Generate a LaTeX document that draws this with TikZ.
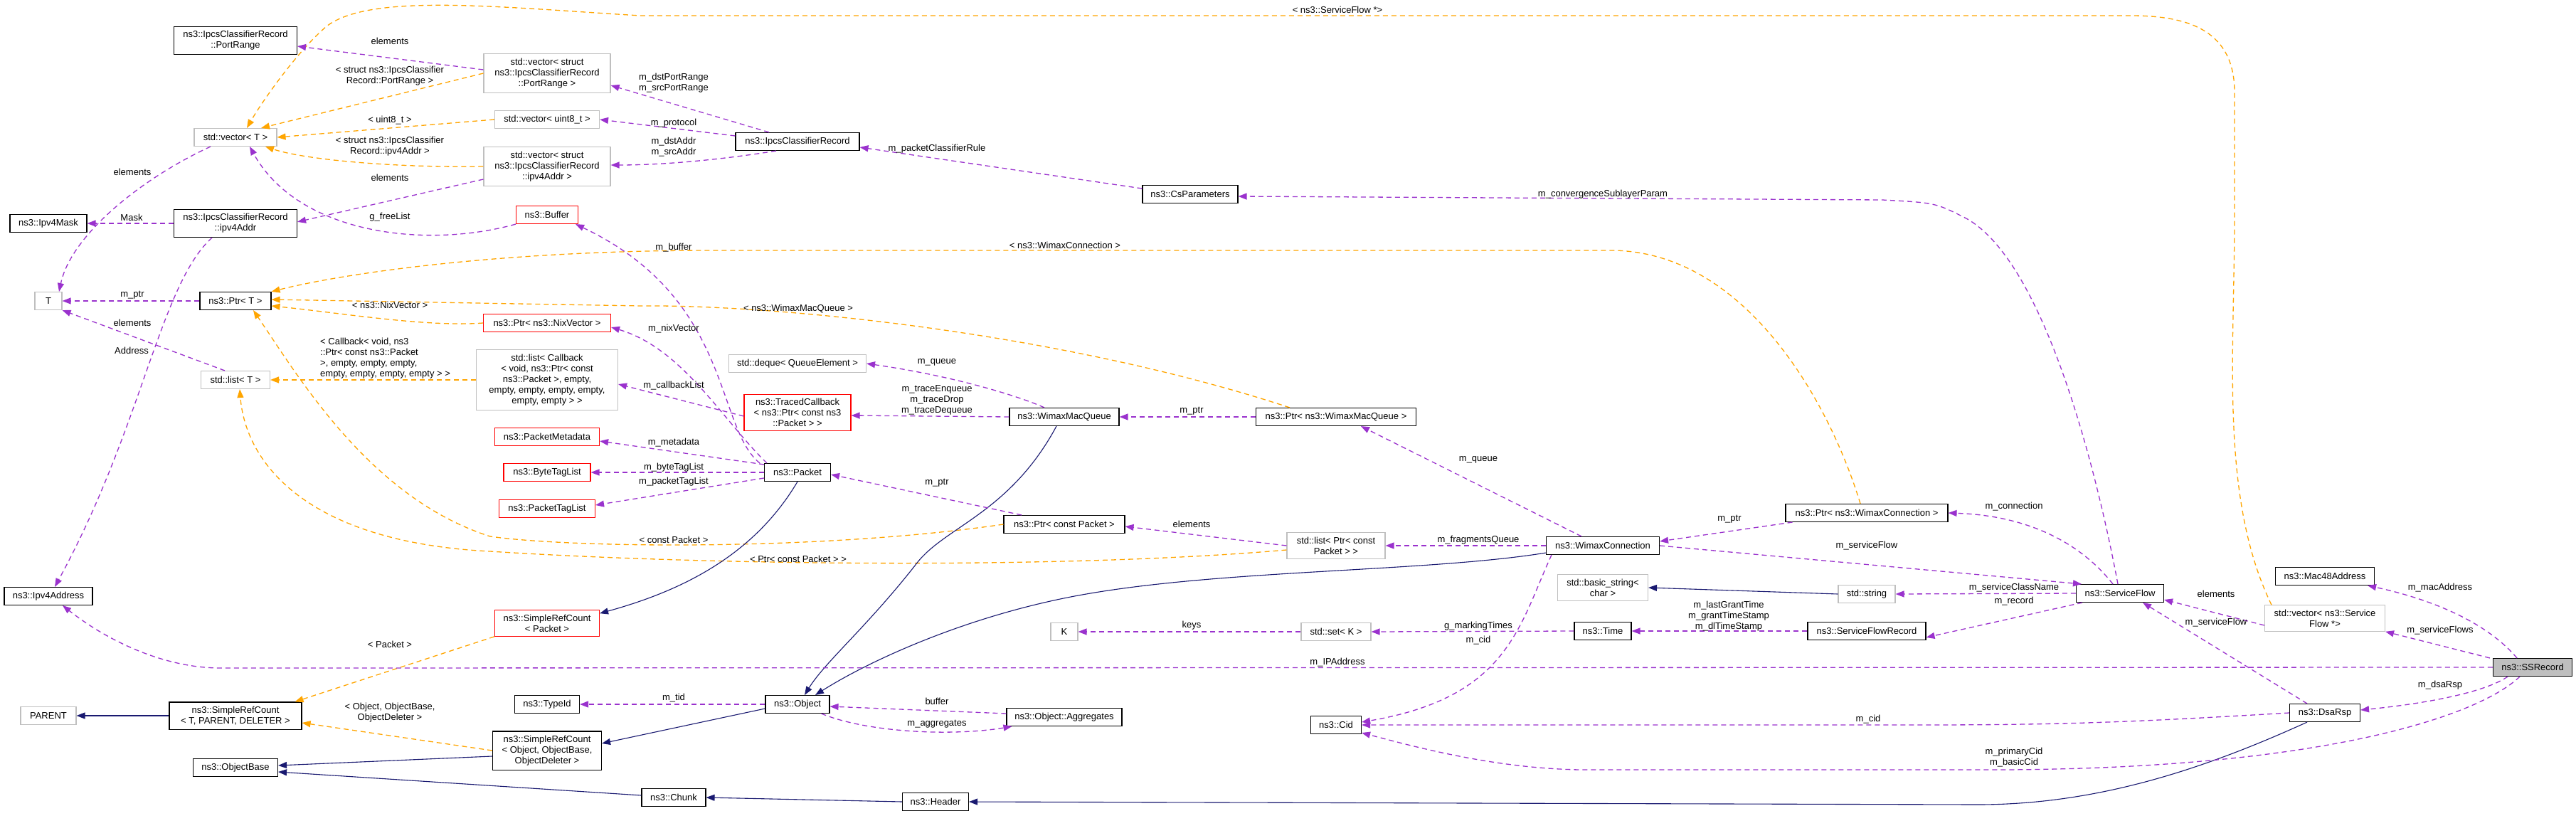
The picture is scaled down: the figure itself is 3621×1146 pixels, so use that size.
\documentclass[tikz,border=0pt]{standalone}
\usepackage{fontspec}
\setmainfont{Liberation Sans}
\usetikzlibrary{arrows.meta,calc}
\definecolor{usecol}{HTML}{9A32CD}
\definecolor{tplcol}{HTML}{FFA500}
\definecolor{inhcol}{HTML}{191970}
\definecolor{greybd}{HTML}{BFBFBF}
\begin{document}
\begin{tikzpicture}[x=1pt,y=-1pt,
  font=\fontsize{13}{15}\selectfont,
  box/.style={draw=black,line width=1.1pt,inner xsep=4pt,inner ysep=6pt,minimum height=25pt,align=center,fill=white},
  gbox/.style={box,draw=greybd},
  rbox/.style={box,draw=red},
  lbl/.style={align=center,inner sep=0pt},
  tip/.style={-{Triangle[length=12pt,width=9pt]}},
  use/.style={tip,draw=usecol,line width=1.3pt,dash pattern=on 7pt off 5pt},
  tpl/.style={tip,draw=tplcol,line width=1.3pt,dash pattern=on 7pt off 5pt},
  inh/.style={tip,draw=inhcol,line width=1.1pt}]
\useasboundingbox (0,0) rectangle (3621,1146);
% nodes
\node[box,minimum width=173] (PortRange) at (331,57) {ns3::IpcsClassifierRecord\\::PortRange};
\node[gbox,minimum width=178] (vecPR) at (769,103) {std::vector{<} struct\\ ns3::IpcsClassifierRecord\\::PortRange {>}};
\node[gbox,minimum width=116] (vecT) at (331,193) {std::vector{<} T {>}};
\node[gbox,minimum width=147] (vecU8) at (769,168) {std::vector{<} uint8\_t {>}};
\node[gbox,minimum width=178] (vecIP) at (769,234) {std::vector{<} struct\\ ns3::IpcsClassifierRecord\\::ipv4Addr {>}};
\node[box,minimum width=108] (Mask) at (68,314) {ns3::Ipv4Mask};
\node[box,minimum width=173] (ipv4Addr) at (331,314) {ns3::IpcsClassifierRecord\\::ipv4Addr};
\node[rbox,minimum width=87] (Buffer) at (769,302) {ns3::Buffer};
\node[gbox,minimum width=38] (T) at (68,423) {T};
\node[box,minimum width=100] (PtrT) at (331,423) {ns3::Ptr{<} T {>}};
\node[rbox,minimum width=179] (PtrNix) at (769,454) {ns3::Ptr{<} ns3::NixVector {>}};
\node[gbox,minimum width=97] (listT) at (331,534) {std::list{<} T {>}};
\node[gbox,minimum width=199] (listCB) at (769,534) {std::list{<} Callback\\{<} void, ns3::Ptr{<} const\\ ns3::Packet {>}, empty,\\ empty, empty, empty, empty,\\ empty, empty {>} {>}};
\node[rbox,minimum width=147] (Meta) at (769,614) {ns3::PacketMetadata};
\node[rbox,minimum width=122] (BTL) at (769,664) {ns3::ByteTagList};
\node[rbox,minimum width=135] (PTL) at (769,715) {ns3::PacketTagList};
\node[box,minimum width=124] (Ipv4Address) at (68,838) {ns3::Ipv4Address};
\node[rbox,minimum width=147] (SRCP) at (769,876) {ns3::SimpleRefCount\\{<} Packet {>}};
\node[gbox,minimum width=78] (PARENT) at (68,1006) {PARENT};
\node[box,minimum width=186] (SRCT) at (331,1006) {ns3::SimpleRefCount\\{<} T, PARENT, DELETER {>}};
\node[box,minimum width=91] (TypeId) at (769,990) {ns3::TypeId};
\node[box,minimum width=153] (SRCO) at (769,1055) {ns3::SimpleRefCount\\{<} Object, ObjectBase,\\ObjectDeleter {>}};
\node[box,minimum width=119] (ObjectBase) at (331,1079) {ns3::ObjectBase};
\node[box,minimum width=174] (IpcsCR) at (1121,199) {ns3::IpcsClassifierRecord};
\node[box,minimum width=134] (CsP) at (1673,273) {ns3::CsParameters};
\node[gbox,minimum width=193] (deque) at (1121,511) {std::deque{<} QueueElement {>}};
\node[rbox,minimum width=150] (TCB) at (1121,580) {ns3::TracedCallback\\{<} ns3::Ptr{<} const ns3\\::Packet {>} {>}};
\node[box,minimum width=154] (WMQ) at (1496,586) {ns3::WimaxMacQueue};
\node[box,minimum width=225] (PtrWMQ) at (1878,586) {ns3::Ptr{<} ns3::WimaxMacQueue {>}};
\node[box,minimum width=93] (Packet) at (1121,664) {ns3::Packet};
\node[box,minimum width=170] (PtrCP) at (1496,737) {ns3::Ptr{<} const Packet {>}};
\node[gbox,minimum width=138] (listPCP) at (1878,767) {std::list{<} Ptr{<} const\\ Packet {>} {>}};
\node[gbox,minimum width=38] (K) at (1496,888) {K};
\node[gbox,minimum width=98] (setK) at (1878,888) {std::set{<} K {>}};
\node[box,minimum width=90] (Object) at (1121,990) {ns3::Object};
\node[box,minimum width=162] (Aggr) at (1496,1008) {ns3::Object::Aggregates};
\node[box,minimum width=71] (Cid) at (1878,1019) {ns3::Cid};
\node[box,minimum width=90] (Chunk) at (947,1121) {ns3::Chunk};
\node[box,minimum width=93] (Header) at (1315,1127) {ns3::Header};
\node[box,minimum width=228] (PtrWC) at (2624,721) {ns3::Ptr{<} ns3::WimaxConnection {>}};
\node[box,minimum width=159] (WC) at (2253,767) {ns3::WimaxConnection};
\node[gbox,minimum width=127] (bstr) at (2253,826) {std::basic\_string{<}\\ char {>}};
\node[gbox,minimum width=80] (str) at (2624,835) {std::string};
\node[box,minimum width=80] (Time) at (2253,887) {ns3::Time};
\node[box,minimum width=166] (SFR) at (2624,887) {ns3::ServiceFlowRecord};
\node[box,minimum width=123] (SF) at (2980,834) {ns3::ServiceFlow};
\node[box,minimum width=139] (Mac) at (3268,810) {ns3::Mac48Address};
\node[gbox,minimum width=169] (vecSF) at (3268,869) {std::vector{<} ns3::Service\\Flow *{>}};
\node[box,fill=greybd,minimum width=111] (SSR) at (3560,938) {ns3::SSRecord};
\node[box,minimum width=99] (DsaRsp) at (3268,1002) {ns3::DsaRsp};

% template edges
\draw[tpl] (vecPR.west) -- ([xshift=36]vecT.north);
\draw[tpl] (vecU8.west) -- (vecT.east);
\draw[tpl] (vecIP.west) .. controls (560,236) and (430,225) .. ([xshift=42]vecT.south);
\draw[tpl] ([xshift=10]vecSF.north west) .. controls (3120,700) and (3141,500) .. (3141,300) -- (3141,130) .. controls (3141,45) and (3080,22) .. (2995,22) -- (900,22) .. controls (700,10) and (520,-10) .. (459,37) .. controls (420,70) and (370,140) .. ([xshift=16]vecT.north);
\draw[tpl] ([xshift=-9]PtrWC.north) .. controls (2570,560) and (2450,352) .. (2264,352) -- (1000,352) .. controls (700,352) and (480,385) .. (PtrT.north east);
\draw[tpl] ([xshift=-65]PtrWMQ.north) .. controls (1500,470) and (1100,428) .. (900,430) -- ([yshift=2]PtrT.east);
\draw[tpl] (PtrNix.west) .. controls (600,460) and (480,440) .. ([yshift=-7]PtrT.east);
\draw[tpl] (PtrCP.west) .. controls (1150,775) and (800,770) .. (689,754) .. controls (520,700) and (420,530) .. ([xshift=25]PtrT.south);
\draw[tpl] (listCB.west) -- (listT.east);
\draw[tpl] ([yshift=-6]listPCP.west) .. controls (1500,800) and (1000,795) .. (689,775) .. controls (430,762) and (345,650) .. ([xshift=6]listT.south);
\draw[tpl] (SRCP.south west) -- ([xshift=-10]SRCT.north east);
\draw[tpl] (SRCO.west) -- ([yshift=-10]SRCT.east);

% inheritance
\draw[inh] (Packet.south) .. controls (1060,780) and (960,830) .. ([yshift=-5]SRCP.north east);
\draw[inh] ([xshift=-11]WMQ.south) .. controls (1420,720) and (1330,740) .. (1290,790) .. controls (1220,880) and (1160,930) .. ([xshift=10]Object.north);
\draw[inh] ([yshift=3]WC.south west) .. controls (2000,805) and (1700,800) .. (1500,840) .. controls (1350,870) and (1220,930) .. ([xshift=25]Object.north);
\draw[inh] ([yshift=-6]Object.west) -- ([yshift=10]SRCO.east);
\draw[inh] ([yshift=-8]SRCO.west) -- ([yshift=3]ObjectBase.east);
\draw[inh] ([yshift=3]Chunk.west) -- ([yshift=-6]ObjectBase.east);
\draw[inh] (Header.west) -- (Chunk.east);
\draw[inh] ([xshift=-25]DsaRsp.south) .. controls (3100,1080) and (2950,1131) .. (2780,1131) -- (Header.east);
\draw[inh] (str.west) -- (bstr.east);
\draw[inh] (SRCT.west) -- (PARENT.east);

% usage
\draw[use] ([yshift=5]vecPR.west) -- ([yshift=-8]PortRange.east);
\draw[use] ([xshift=-40]IpcsCR.north) -- ([yshift=-17]vecPR.east);
\draw[use] ([yshift=8]IpcsCR.west) -- (vecU8.east);
\draw[use] ([xshift=-30]IpcsCR.south) .. controls (1010,225) and (930,232) .. ([yshift=2]vecIP.east);
\draw[use] ([yshift=-18]vecIP.west) -- ([yshift=-18]ipv4Addr.north east);
\draw[use] ([xshift=-35]vecT.south) .. controls (200,250) and (100,330) .. ([xshift=15]T.north);
\draw[use] (ipv4Addr.west) -- (Mask.east);
\draw[use] ([xshift=-33]ipv4Addr.south) .. controls (225,400) and (200,600) .. ([xshift=9]Ipv4Address.north);
\draw[use] (Buffer.south west) .. controls (600,350) and (420,330) .. ([xshift=20]vecT.south);
\draw[use] (PtrT.west) -- (T.east);
\draw[use] ([xshift=-15]listT.north) -- (T.south east);
\draw[use] ([yshift=8]CsP.west) -- ([yshift=-8]IpcsCR.east);
\draw[use] ([xshift=-3]SF.north) .. controls (2945,650) and (2870,360) .. (2760,305) .. controls (2720,285) .. (2646,281) -- ([yshift=-3]CsP.east);
\draw[use] ([xshift=-6]Packet.north west) .. controls (1005,600) and (1030,420) .. ([xshift=-4]Buffer.south east);
\draw[use] ([xshift=4]Packet.north west) .. controls (1015,590) and (960,490) .. ([yshift=-6]PtrNix.east);
\draw[use] ([yshift=-5]TCB.west) -- ([yshift=-6]listCB.east);
\draw[use] ([yshift=-2]Packet.north west) -- ([yshift=-6]Meta.east);
\draw[use] (Packet.west) -- (BTL.east);
\draw[use] ([yshift=-8]Packet.west) -- ([yshift=5]PTL.east);
\draw[use] ([xshift=-28]WMQ.north) .. controls (1440,560) and (1350,530) .. (deque.east);
\draw[use] (WMQ.west) -- ([yshift=-4]TCB.east);
\draw[use] (PtrWMQ.west) -- (WMQ.east);
\draw[use] ([xshift=-60]PtrCP.north) -- ([yshift=-3]Packet.east);
\draw[use] ([xshift=-30]WC.north) -- ([xshift=35]PtrWMQ.south);
\draw[use] (listPCP.west) -- ([yshift=-3]PtrCP.east);
\draw[use] (WC.west) -- (listPCP.east);
\draw[use] ([xshift=10]PtrWC.south west) -- ([yshift=-7]WC.north east);
\draw[use] ([xshift=-10]SF.north) .. controls (2930,770) and (2860,725) .. (PtrWC.east);
\draw[use] (WC.east) -- ([xshift=8]SF.north west);
\draw[use] (SF.west) -- (str.east);
\draw[use] ([xshift=9]SF.south west) -- ([yshift=-9]SFR.east);
\draw[use] (SFR.west) -- (Time.east);
\draw[use] (Time.west) -- (setK.east);
\draw[use] (setK.west) -- (K.east);
\draw[use] ([xshift=8]WC.south west) .. controls (2135,880) and (2120,980) .. ([yshift=4]Cid.east);
\draw[use] (SSR.west) -- (310,939) .. controls (230,939) and (150,900) .. ([xshift=20]Ipv4Address.south);
\draw[use] (Object.west) -- (TypeId.east);
\draw[use] ([yshift=5]Aggr.west) -- ([yshift=-3]Object.east);
\draw[use] ([xshift=-12]Object.south east) .. controls (1220,1030) and (1340,1035) .. ([xshift=8]Aggr.south west);
\draw[use] ([yshift=-10]vecSF.west) -- ([yshift=-9]SF.east);
\draw[use] ([xshift=-22]SSR.north) .. controls (3500,880) and (3430,845) .. ([xshift=-10]Mac.south east);
\draw[use] ([xshift=-4]SSR.north west) -- (vecSF.south east);
\draw[use] ([xshift=-35]SSR.south) .. controls (3490,975) and (3400,990) .. ([yshift=4]DsaRsp.east);
\draw[use] ([xshift=-18]SSR.south) .. controls (3480,1010) and (3250,1082) .. (2800,1082) -- (2221,1082) .. controls (2100,1080) and (1990,1050) .. ([yshift=2]Cid.south east);
\draw[use] (DsaRsp.west) .. controls (3000,1015) and (2900,1019) .. (2700,1019) -- (Cid.east);
\draw[use] ([xshift=-25]DsaRsp.north) -- ([xshift=32]SF.south);

% labels
\node[lbl] at (548,58) {elements};
\node[lbl] at (548,107) {{<} struct ns3::IpcsClassifier\\Record::PortRange {>}};
\node[lbl] at (548,169) {{<} uint8\_t {>}};
\node[lbl] at (548,206) {{<} struct ns3::IpcsClassifier\\Record::ipv4Addr {>}};
\node[lbl] at (548,250) {elements};
\node[lbl] at (186,242) {elements};
\node[lbl] at (185,306) {Mask};
\node[lbl] at (548,305) {g\_freeList};
\node[lbl] at (186,415) {m\_ptr};
\node[lbl] at (548,429) {{<} ns3::NixVector {>}};
\node[lbl] at (186,454) {elements};
\node[lbl] at (185,493) {Address};
\node[lbl,align=left,anchor=west] at (450,504) {{<} Callback{<} void, ns3\\::Ptr{<} const ns3::Packet\\{>}, empty, empty, empty,\\empty, empty, empty, empty {>} {>}};
\node[lbl] at (548,906) {{<} Packet {>}};
\node[lbl] at (548,1002) {{<} Object, ObjectBase,\\ObjectDeleter {>}};
\node[lbl] at (947,759) {{<} const Packet {>}};
\node[lbl] at (1122,786) {{<} Ptr{<} const Packet {>} {>}};
\node[lbl] at (947,117) {m\_dstPortRange\\m\_srcPortRange};
\node[lbl] at (947,173) {m\_protocol};
\node[lbl] at (947,207) {m\_dstAddr\\m\_srcAddr};
\node[lbl] at (1317,209) {m\_packetClassifierRule};
\node[lbl] at (1497,345) {{<} ns3::WimaxConnection {>}};
\node[lbl] at (947,348) {m\_buffer};
\node[lbl] at (1122,434) {{<} ns3::WimaxMacQueue {>}};
\node[lbl] at (947,462) {m\_nixVector};
\node[lbl] at (1317,509) {m\_queue};
\node[lbl] at (947,542) {m\_callbackList};
\node[lbl] at (1317,562) {m\_traceEnqueue\\m\_traceDrop\\m\_traceDequeue};
\node[lbl] at (947,622) {m\_metadata};
\node[lbl] at (947,657) {m\_byteTagList};
\node[lbl] at (947,677) {m\_packetTagList};
\node[lbl] at (1317,679) {m\_ptr};
\node[lbl] at (1675,737) {elements};
\node[lbl] at (1675,578) {m\_ptr};
\node[lbl] at (1675,879) {keys};
\node[lbl] at (947,981) {m\_tid};
\node[lbl] at (1317,986) {buffer};
\node[lbl] at (1317,1018) {m\_aggregates};
\node[lbl] at (1880,931) {m\_IPAddress};
\node[lbl] at (2078,646) {m\_queue};
\node[lbl] at (2078,759) {m\_fragmentsQueue};
\node[lbl] at (2431,730) {m\_ptr};
\node[lbl] at (2624,767) {m\_serviceFlow};
\node[lbl] at (2430,866) {m\_lastGrantTime\\m\_grantTimeStamp\\m\_dlTimeStamp};
\node[lbl] at (2078,880) {g\_markingTimes};
\node[lbl] at (2078,900) {m\_cid};
\node[lbl] at (2253,273) {m\_convergenceSublayerParam};
\node[lbl] at (1880,14) {{<} ns3::ServiceFlow *{>}};
\node[lbl] at (2831,712) {m\_connection};
\node[lbl] at (2831,826) {m\_serviceClassName};
\node[lbl] at (2831,845) {m\_record};
\node[lbl] at (3115,835) {elements};
\node[lbl] at (3430,826) {m\_macAddress};
\node[lbl] at (3115,875) {m\_serviceFlow};
\node[lbl] at (3430,886) {m\_serviceFlows};
\node[lbl] at (3430,963) {m\_dsaRsp};
\node[lbl] at (2831,1065) {m\_primaryCid\\m\_basicCid};
\node[lbl] at (2626,1011) {m\_cid};
\end{tikzpicture}
\end{document}
